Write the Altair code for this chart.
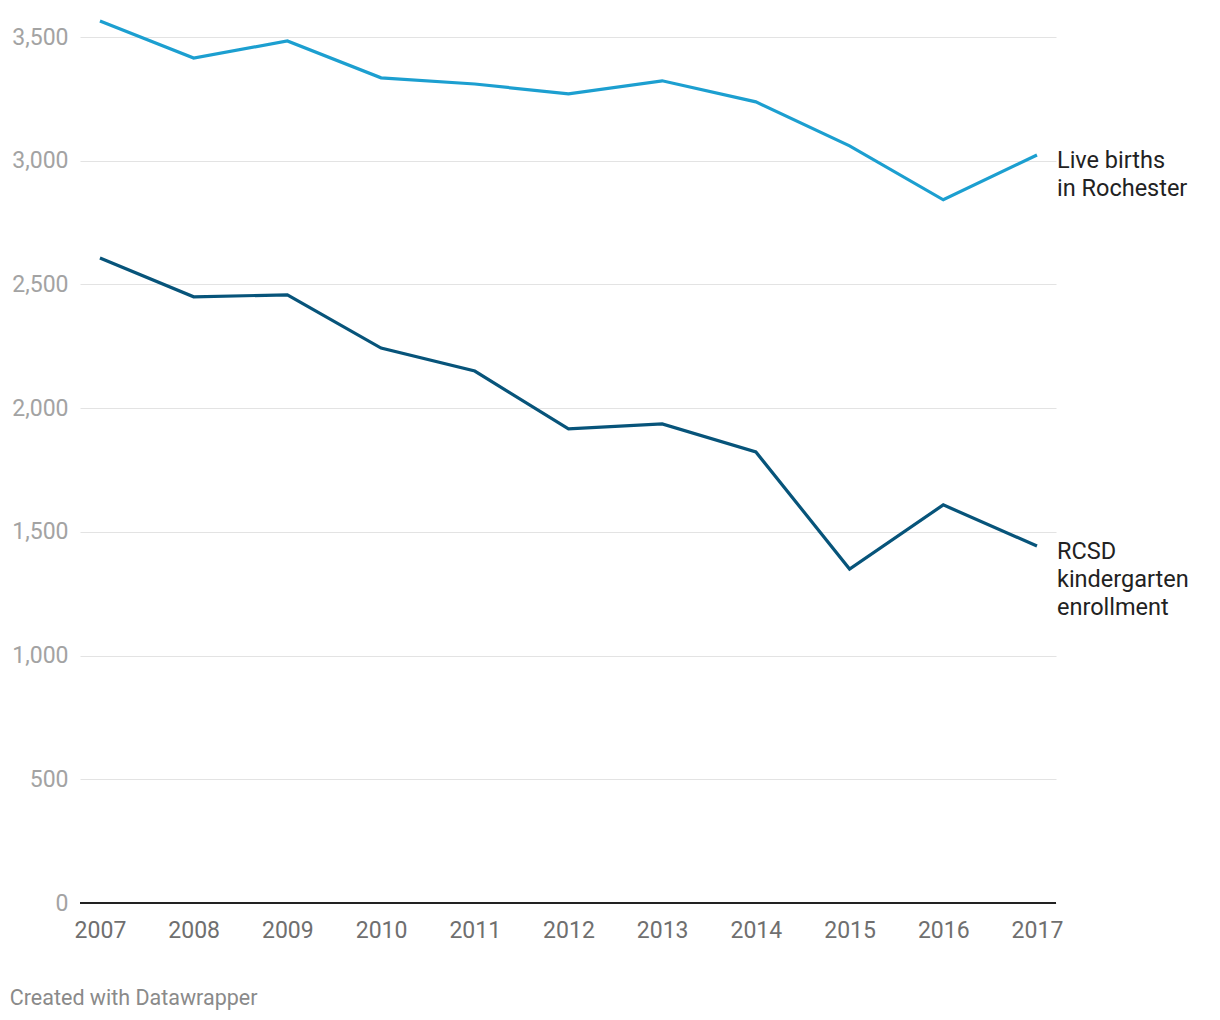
import altair as alt
import pandas as pd

years = list(range(2007, 2018))
live_births = [3565, 3415, 3484, 3335, 3310, 3270, 3323, 3238, 3060, 2842, 3023]
rcsd_k = [2607, 2450, 2458, 2243, 2150, 1916, 1936, 1823, 1350, 1609, 1443]
series_names = ["Live births in Rochester", "RCSD kindergarten enrollment"]
label_texts = ["Live births\nin Rochester", "RCSD\nkindergarten\nenrollment"]
colors = ["#1c9fd0", "#07547a"]
y_ticks = [0, 500, 1000, 1500, 2000, 2500, 3000, 3500]

rows = []
for name, vals in zip(series_names, [live_births, rcsd_k]):
    for yr, v in zip(years, vals):
        rows.append({"year": yr, "value": v, "series": name})
df = pd.DataFrame(rows)

lab = pd.DataFrame({
    "year": [years[-1], years[-1]],
    "value": [live_births[-1], rcsd_k[-1]],
    "series": series_names,
    "label": label_texts,
})

xscale = alt.Scale(domain=[2006.787, 2017.203], nice=False, zero=False)
yscale = alt.Scale(domain=[0, 3500], nice=False)
cscale = alt.Scale(domain=series_names, range=colors)

lines = alt.Chart(df).mark_line(strokeWidth=3.2, strokeJoin="miter", clip=False).encode(
    x=alt.X("year:Q", scale=xscale,
            axis=alt.Axis(values=years, format="d", title=None, domain=False, ticks=False,
                          grid=False, labelFontSize=23, labelColor="#6f6f6f",
                          labelPadding=16, labelFont="Roboto")),
    y=alt.Y("value:Q", scale=yscale,
            axis=alt.Axis(values=y_ticks, format=",d", title=None, domain=False, ticks=False,
                          gridColor="#e3e3e3", gridWidth=1, labelFontSize=23,
                          labelColor="#a3a3a3", labelPadding=12, labelFont="Roboto",
                          labelBaseline="middle")),
    color=alt.Color("series:N", scale=cscale, legend=None),
)

base_rule = alt.Chart(pd.DataFrame({"value": [0]})).mark_rule(color="#222222", strokeWidth=2).encode(
    y=alt.Y("value:Q", scale=yscale)
)

labels = alt.Chart(lab).mark_text(
    align="left", baseline="middle", dx=20, dy=6, fontSize=23.5, lineBreak="\n",
    lineHeight=28, color="#222222", font="Roboto"
).encode(
    x=alt.X("year:Q", scale=xscale),
    y=alt.Y("value:Q", scale=yscale),
    text="label:N",
)

chart = alt.layer(lines, base_rule, labels).properties(
    width=976, height=866,
    background="white",
    autosize=alt.AutoSizeParams(type="none"),
    padding={"left": 80, "top": 37, "right": 164, "bottom": 117},
    title=alt.TitleParams("Created with Datawrapper", orient="bottom", anchor="start",
                          dx=-2, offset=46, fontSize=21.5, color="#8a8a8a",
                          font="Roboto", fontWeight="normal"),
).configure_view(strokeWidth=0)

chart.save("out.html", embed_options={"renderer": "svg", "actions": False})
